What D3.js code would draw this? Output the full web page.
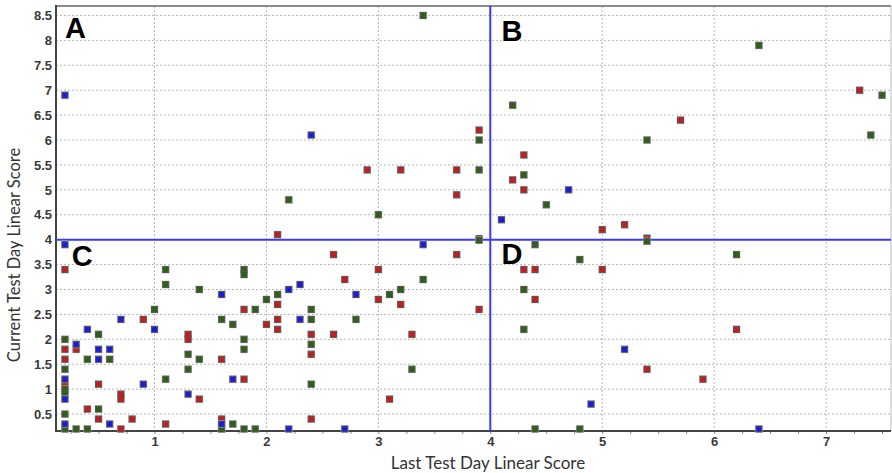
<!DOCTYPE html>
<html>
<head>
<meta charset="utf-8">
<script src="https://cdn.jsdelivr.net/npm/d3@7"></script>
<style>
  body { margin: 0; background: #fff; }
  svg { display: block; }
</style>
</head>
<body>
<svg width="892" height="473"></svg>
<script>
// points, [last test day, current test day]
const redPoints = [
  [0.2,3.4],[0.2,1.8],[0.2,1.6],[0.2,1.1],[0.3,1.8],[0.4,0.6],[0.5,1.1],[0.5,0.4],
  [0.7,0.9],[0.7,0.8],[0.7,0.2],[0.8,0.4],[0.9,2.4],[1.1,0.3],[1.3,2.1],[1.3,2.0],
  [1.4,0.8],[1.6,1.6],[1.6,0.4],[1.8,2.6],[1.8,1.2],[2.0,2.3],[2.1,4.1],[2.1,2.7],
  [2.1,2.4],[2.1,2.2],[2.4,2.1],[2.4,1.7],[2.4,0.4],[2.6,3.7],[2.6,2.1],[2.7,3.2],
  [3.0,3.4],[3.0,2.8],[3.2,2.7],[3.3,2.1],[3.1,0.8],[3.7,3.7],[3.9,2.6],[2.9,5.4],
  [3.2,5.4],[3.7,5.4],[3.7,4.9],[3.9,6.2],[4.3,5.7],[4.2,5.2],[4.3,5.0],[4.3,3.4],
  [4.4,3.4],[4.4,2.8],[5.0,4.2],[5.2,4.3],[5.4,4.03],[5.7,6.4],[7.3,7.0],[5.0,3.4],
  [6.2,2.2],[5.4,1.4],[5.9,1.2],[3.9,4.02]
];
const greenPoints = [
  [0.2,2.0],[0.2,1.4],[0.2,1.0],[0.2,0.9],[0.2,0.5],[0.2,0.2],[0.3,0.2],[0.4,1.6],
  [0.4,0.2],[0.5,2.1],[0.5,0.6],[0.6,1.6],[1.0,2.6],[1.1,3.4],[1.1,3.1],[1.1,1.2],
  [1.3,1.7],[1.3,1.4],[1.4,3.0],[1.4,1.6],[1.6,2.4],[1.6,0.2],[1.7,2.3],[1.7,0.3],
  [1.8,3.4],[1.8,3.3],[1.8,2.0],[1.8,1.8],[1.8,0.2],[1.9,2.6],[1.9,0.2],[2.0,2.8],
  [2.1,2.9],[2.2,4.8],[2.4,2.6],[2.4,2.4],[2.4,1.9],[2.4,1.1],[2.8,2.4],[3.1,2.9],
  [3.2,3.0],[3.4,3.2],[3.3,1.4],[3.0,4.5],[3.4,8.5],[3.9,6.0],[3.9,5.4],[3.9,3.99],
  [4.2,6.7],[4.3,5.3],[4.5,4.7],[4.4,3.9],[4.8,3.6],[4.3,3.0],[4.3,2.2],[4.4,0.2],
  [4.8,0.2],[5.4,6.0],[5.4,3.97],[6.2,3.7],[6.4,7.9],[7.5,6.9],[7.4,6.1]
];
const bluePoints = [
  [0.2,6.9],[0.2,3.9],[0.2,1.2],[0.2,0.8],[0.2,0.3],[0.3,1.9],[0.4,2.2],[0.5,1.8],
  [0.5,1.6],[0.6,1.8],[0.6,0.3],[0.7,2.4],[0.9,1.1],[1.0,2.2],[1.3,0.9],[1.6,2.9],
  [1.6,0.3],[1.7,1.2],[2.2,3.0],[2.2,0.2],[2.3,3.1],[2.3,2.4],[2.7,0.2],[2.8,2.9],
  [3.4,3.9],[2.4,6.1],[4.1,4.4],[4.7,5.0],[4.9,0.7],[5.2,1.8],[6.4,0.2]
];
const xTicks = [1, 2, 3, 4, 5, 6, 7];
const yTicks = [0.5, 1, 1.5, 2, 2.5, 3, 3.5, 4, 4.5, 5, 5.5, 6, 6.5, 7, 7.5, 8, 8.5];
const cutoff = 4;
const quadrants = [
  { label: "A", x: 0.2, y: 8.05 },
  { label: "B", x: 4.1, y: 7.98 },
  { label: "C", x: 0.26, y: 3.47 },
  { label: "D", x: 4.1, y: 3.52 }
];

const svg = d3.select("svg");
const pLeft = 56, pRight = 891, pTop = 6, pBottom = 431;

const x = d3.scaleLinear().domain([0.12, 7.58]).range([pLeft, pRight]);
const y = d3.scaleLinear().domain([0.16, 8.69]).range([pBottom, pTop]);

// grid
svg.append("g")
  .selectAll("line")
  .data(xTicks)
  .join("line")
  .attr("x1", d => x(d)).attr("x2", d => x(d))
  .attr("y1", pTop).attr("y2", pBottom)
  .attr("stroke", "#b8b8b8").attr("stroke-dasharray", "2,2");
svg.append("g")
  .selectAll("line")
  .data(yTicks)
  .join("line")
  .attr("x1", pLeft).attr("x2", pRight)
  .attr("y1", d => y(d)).attr("y2", d => y(d))
  .attr("stroke", "#b8b8b8").attr("stroke-dasharray", "2,2");

// x axis: minor ticks + labels
const minor = d3.range(0.25, 7.58, 0.25);
svg.append("g")
  .attr("transform", `translate(0,${pBottom})`)
  .call(d3.axisBottom(x).tickValues(minor).tickSize(3).tickFormat(""))
  .call(g => g.select(".domain").remove())
  .call(g => g.selectAll("line").attr("stroke", "#888"));
svg.append("g")
  .attr("transform", `translate(0,${pBottom})`)
  .call(d3.axisBottom(x).tickValues(xTicks).tickSize(0).tickPadding(6).tickFormat(d3.format("d")))
  .call(g => g.select(".domain").remove())
  .call(g => g.selectAll("text")
    .attr("font-family", "Liberation Sans, Arial, sans-serif")
    .attr("font-size", 13).attr("font-weight", "bold").attr("fill", "#3a3a3a"));

svg.append("g")
  .attr("transform", `translate(${pLeft},0)`)
  .call(d3.axisLeft(y).tickValues(yTicks).tickSize(0).tickPadding(4).tickFormat(d => d))
  .call(g => g.select(".domain").remove())
  .call(g => g.selectAll("text")
    .attr("font-family", "Liberation Sans, Arial, sans-serif")
    .attr("font-size", 13).attr("font-weight", "bold").attr("fill", "#3a3a3a"));

// frame
svg.append("line").attr("x1", pLeft).attr("x2", pRight).attr("y1", pTop).attr("y2", pTop)
  .attr("stroke", "#8a8a8a").attr("stroke-width", 2);
svg.append("line").attr("x1", pRight).attr("x2", pRight).attr("y1", pTop).attr("y2", pBottom)
  .attr("stroke", "#bbb").attr("stroke-width", 1);
svg.append("line").attr("x1", pLeft).attr("x2", pLeft).attr("y1", pTop - 1).attr("y2", pBottom + 1)
  .attr("stroke", "#444").attr("stroke-width", 2);
svg.append("line").attr("x1", pLeft - 1).attr("x2", pRight).attr("y1", pBottom).attr("y2", pBottom)
  .attr("stroke", "#444").attr("stroke-width", 2);

// cutoff lines
svg.append("line").attr("x1", x(cutoff)).attr("x2", x(cutoff)).attr("y1", pTop).attr("y2", pBottom)
  .attr("stroke", "#3a3aff").attr("stroke-width", 2);
svg.append("line").attr("x1", pLeft).attr("x2", pRight).attr("y1", y(cutoff)).attr("y2", y(cutoff))
  .attr("stroke", "#3a3aff").attr("stroke-width", 2);

// points
const series = [
  { pts: redPoints, fill: "#cc1a1a" },
  { pts: greenPoints, fill: "#2c6212" },
  { pts: bluePoints, fill: "#1a1ae6" }
];
series.forEach(s => {
  const g = svg.append("g");
  g.append("g").selectAll("rect")
    .data(s.pts)
    .join("rect")
    .attr("x", d => x(d[0]) - 4).attr("y", d => y(d[1]) - 4)
    .attr("width", 8).attr("height", 8)
    .attr("fill", "#c8c8c8").attr("opacity", 0.7);
  g.append("g").selectAll("rect")
    .data(s.pts)
    .join("rect")
    .attr("x", d => x(d[0]) - 3).attr("y", d => y(d[1]) - 3)
    .attr("width", 6).attr("height", 6)
    .attr("fill", s.fill).attr("stroke", "#555").attr("stroke-width", 1);
});

// quadrant letters
svg.append("g")
  .selectAll("text")
  .data(quadrants)
  .join("text")
  .attr("x", d => x(d.x)).attr("y", d => y(d.y))
  .attr("font-family", "Liberation Sans, Arial, sans-serif")
  .attr("font-size", 29).attr("font-weight", "bold").attr("fill", "#000")
  .text(d => d.label);

// axis titles
svg.append("text")
  .attr("x", 488).attr("y", 469)
  .attr("text-anchor", "middle")
  .attr("font-family", "Lato, 'Open Sans', sans-serif")
  .attr("font-size", 17).attr("fill", "#333")
  .text("Last Test Day Linear Score");
svg.append("text")
  .attr("transform", `translate(20,255) rotate(-90)`)
  .attr("text-anchor", "middle")
  .attr("font-family", "Lato, 'Open Sans', sans-serif")
  .attr("font-size", 16.5).attr("fill", "#333")
  .text("Current Test Day Linear Score");
</script>
</body>
</html>
